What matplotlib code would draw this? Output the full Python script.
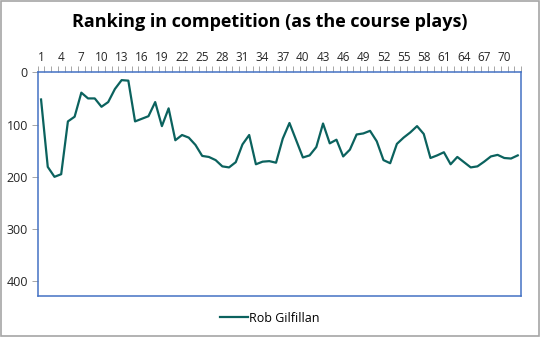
import numpy as np
import matplotlib
matplotlib.use("Agg")
import matplotlib.pyplot as plt
from matplotlib.patches import Rectangle

# ranking after each hole
holes = list(range(1, 73))
rank = [52, 181, 200, 195, 94, 85, 39, 50, 50, 66,
        57, 32, 15, 16, 94, 89, 84, 57, 103, 69,
        130, 120, 125, 139, 160, 162, 168, 180, 182, 172,
        138, 120, 176, 171, 170, 173, 127, 97, 130, 163,
        159, 143, 98, 136, 129, 161, 148, 119, 117, 112,
        132, 168, 174, 137, 125, 115, 103, 118, 164, 159,
        153, 176, 162, 172, 182, 180, 171, 161, 158, 164,
        165, 159]
player = "Rob Gilfillan"
title = "Ranking in competition (as the course plays)"

plt.rcParams['font.family'] = ['Open Sans', 'DejaVu Sans']

fig = plt.figure(figsize=(5.4, 3.37), dpi=100)
ax = fig.add_axes([0.0698, 0.1217, 0.8952, 0.6638])

line, = ax.plot(holes, rank, color="#0b625e", lw=1.6, label=player)

ax.set_xlim(0.5, 72.5)
ax.set_ylim(428, 0)

# category axis along the top
ax.xaxis.tick_top()
ax.set_xticks(holes[::3])
ax.set_xticks(np.arange(0.5, 73, 1), minor=True)
ax.tick_params(axis="x", which="major", length=0, pad=6, labelsize=8.5,
               labelcolor="#262626")
ax.tick_params(axis="x", which="minor", length=4, color="#a6a6a6", width=0.7)
ax.set_yticks([0, 100, 200, 300, 400])
ax.tick_params(axis="y", length=4, color="#a6a6a6", width=0.7, pad=3,
               labelsize=9, labelcolor="#262626")

for s in ax.spines.values():
    s.set_color("#4472c4")
    s.set_linewidth(1.1)

fig.text(0.5, 0.935, title, ha="center", va="center", fontsize=13,
         fontweight="bold", color="black")

fig.legend(handles=[line], loc="center", bbox_to_anchor=(0.5, 0.056),
           frameon=False, fontsize=9, handlelength=2.2, handletextpad=0.1)

# outer chart border
fig.patches.append(Rectangle((0.001, 0.002), 0.997, 0.995, transform=fig.transFigure,
                             fill=False, edgecolor="#a6a6a6", lw=1.2))

fig.savefig("out.png", dpi=100)
